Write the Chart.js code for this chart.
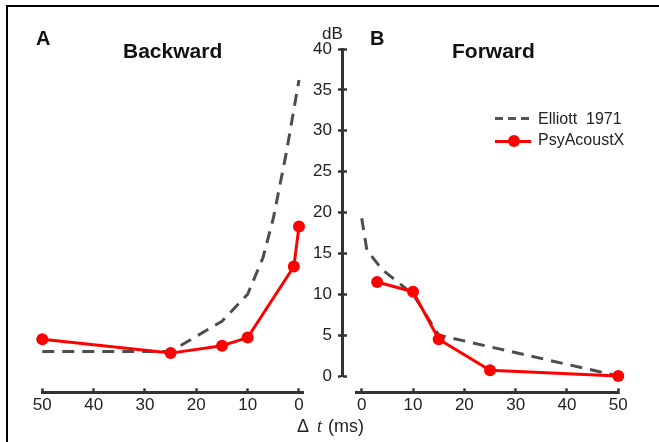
<!DOCTYPE html>
<html>
<head>
<meta charset="utf-8">
<script src="https://cdn.jsdelivr.net/npm/chart.js@4.4.1/dist/chart.umd.min.js"></script>
<style>
  body { margin: 0; background: #fff; font-family: 'Liberation Sans', Arial, sans-serif; color: #111; }
  #page { position: relative; width: 659px; height: 442px; overflow: hidden; }
  #frame { position: absolute; left: 6px; top: 5px; width: 700px; height: 500px; border-left: 2px solid #000; border-top: 2px solid #000; }
  canvas { position: absolute; top: 0; }
  .txt { position: absolute; white-space: pre; line-height: 1; }
  .panel { font-size: 20px; font-weight: bold; }
  .title { font-size: 21px; font-weight: bold; }
  .leg { font-size: 16px; color: #222; }
  .swatch { position: absolute; height: 3px; }
</style>
</head>
<body>
<div id="page">
  <div id="frame"></div>

  <canvas id="backChart" width="320" height="442" style="left:0px"></canvas>
  <canvas id="fwdChart" width="329" height="442" style="left:330px"></canvas>
  <canvas id="yAxisChart" width="57" height="442" style="left:290px"></canvas>

  <div class="txt panel" style="left:36px; top:28px">A</div>
  <div class="txt title" style="left:123px; top:39.5px">Backward</div>
  <div class="txt panel" style="left:370px; top:28px">B</div>
  <div class="txt title" style="left:452px; top:39.5px">Forward</div>
  <div class="txt" style="left:322px; top:25px; font-size:17px; color:#222">dB</div>
  <div class="txt" style="left:297px; top:416.5px; font-size:18px; color:#222">Δ<i style="font-family:'Liberation Serif',serif; margin-left:8px; margin-right:6px">t</i>(ms)</div>

  <!-- legend -->
  <div class="swatch" style="left:495px; top:116.5px; width:36px; background:repeating-linear-gradient(to right,#555 0 8px,transparent 8px 13px)"></div>
  <div class="txt leg" style="left:538px; top:110.5px">Elliott  1971</div>
  <div class="swatch" style="left:495px; top:139.5px; width:36px; background:#f00"></div>
  <div style="position:absolute; left:508px; top:135px; width:12px; height:12px; border-radius:50%; background:#f00"></div>
  <div class="txt leg" style="left:538px; top:132px">PsyAcoustX</div>
</div>

<script>
/* values (ms, dB) */
// Backward masking, panel A
let backMs = [50, 25, 15, 10, 1, 0]
let backDb = [4.5, 2.8, 3.7, 4.7, 13.4, 18.3]
let elliottBackMs = [50, 25, 15, 10, 7, 5, 2.5, 0]
let elliottBackDb = [3, 3, 6.7, 10, 14.5, 19.3, 27.2, 36.2]

// Forward masking, panel B
let fwdMs = [3, 10, 15, 25, 50]
let fwdDb = [11.5, 10.3, 4.5, 0.7, 0]
let elliottFwdMs = [0, 1, 4, 10, 15, 50]
let elliottFwdDb = [19.3, 15.4, 13, 10, 5, 0]

// tick labels
let xTicks = [0, 10, 20, 30, 40, 50]
let yTicks = [0, 5, 10, 15, 20, 25, 30, 35, 40]

let fontFamily = "'Liberation Sans', Arial, sans-serif"
let axisColor = '#333'

function toPoints(xs, ys) {
    return xs.map((x, i) => ({ x: x, y: ys[i] }))
}

function makePanel(canvasId, ms, db, eMs, eDb, reverse, xMin, padLeft, padRight) {
    let ctx = document.querySelector(canvasId).getContext('2d')
    return new Chart(ctx, {
        type: 'line',
        data: {
            datasets: [
                {
                    label: 'PsyAcoustX',
                    data: toPoints(ms, db),
                    borderColor: '#ff0000',
                    backgroundColor: '#ff0000',
                    borderWidth: 3,
                    pointRadius: 6,
                    pointBorderWidth: 0,
                    pointBackgroundColor: '#ff0000',
                    tension: 0,
                    clip: false,
                    order: 0
                },
                {
                    label: 'Elliott  1971',
                    data: toPoints(eMs, eDb),
                    borderColor: '#4d4d4d',
                    borderWidth: 3,
                    borderDash: [12, 8],
                    pointRadius: 0,
                    tension: 0,
                    clip: false,
                    order: 1
                }
            ]
        },
        options: {
            responsive: false,
            animation: false,
            devicePixelRatio: 1,
            layout: { padding: { left: padLeft, right: padRight, top: 49, bottom: 0 } },
            plugins: { legend: { display: false }, tooltip: { enabled: false } },
            scales: {
                x: {
                    type: 'linear',
                    reverse: reverse,
                    min: xMin,
                    max: 50,
                    afterBuildTicks: s => { s.ticks = xTicks.map(v => ({ value: v })) },
                    afterFit: s => { s.height = 442 - 392.35 },
                    border: { color: axisColor, width: 3 },
                    grid: { drawOnChartArea: false, tickLength: -4, tickWidth: 2.5, tickColor: axisColor },
                    ticks: { padding: 7, color: '#222', font: { size: 17, family: fontFamily } }
                },
                y: { display: false, min: -2, max: 40 }
            }
        }
    })
}

let backChart = makePanel('#backChart', backMs, backDb, elliottBackMs, elliottBackDb, true, -0.8, 42.3, 320 - 303.1)
let fwdChart = makePanel('#fwdChart', fwdMs, fwdDb, elliottFwdMs, elliottFwdDb, false, -1, 26.6, 329 - 618.3 + 330)

// the shared dB axis between the panels
let yAxisChart = new Chart(document.querySelector('#yAxisChart').getContext('2d'), {
    type: 'line',
    data: { datasets: [] },
    options: {
        responsive: false,
        animation: false,
        devicePixelRatio: 1,
        layout: { padding: { left: 0, right: 0, top: 49, bottom: 66 } },
        plugins: { legend: { display: false }, tooltip: { enabled: false } },
        scales: {
            x: { type: 'linear', display: false, min: 0, max: 1 },
            y: {
                position: 'left',
                min: 0,
                max: 40,
                afterBuildTicks: s => { s.ticks = yTicks.map(v => ({ value: v })) },
                afterFit: s => { s.width = 52 },
                border: { color: axisColor, width: 3 },
                grid: { drawOnChartArea: false, tickLength: 4, tickWidth: 2.5, tickColor: axisColor },
                ticks: { padding: 6, color: '#222', font: { size: 17, family: fontFamily } }
            },
            y2: {
                position: 'right',
                min: 0,
                max: 40,
                afterBuildTicks: s => { s.ticks = yTicks.map(v => ({ value: v })) },
                afterFit: s => { s.width = 4 },
                border: { display: false },
                grid: { drawOnChartArea: false, tickLength: 4, tickWidth: 2.5, tickColor: axisColor },
                ticks: { display: false }
            }
        }
    }
})
</script>
</body>
</html>
